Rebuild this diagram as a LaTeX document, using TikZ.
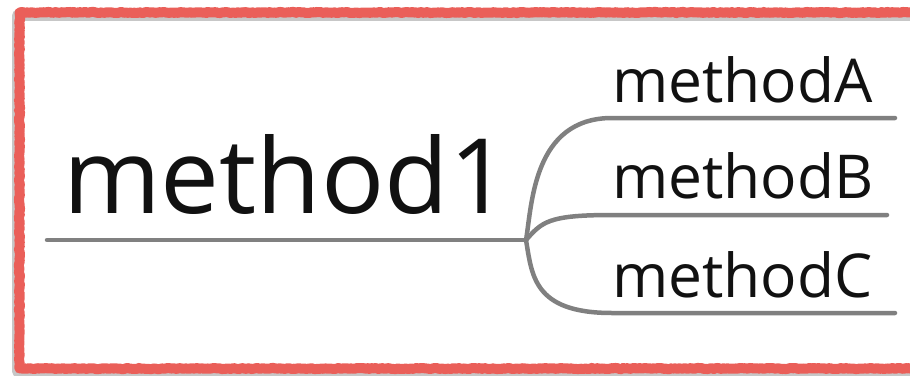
\documentclass[tikz,border=0pt]{standalone}
\usepackage{fontspec}
\setmainfont{Open Sans}
\usetikzlibrary{decorations.pathmorphing}
\definecolor{framered}{HTML}{EA5F59}
\definecolor{branchgray}{HTML}{808080}
\definecolor{inkblack}{HTML}{111111}
\begin{document}
\begin{tikzpicture}[x=1pt,y=-1pt,
  label/.style={anchor=base west,inner sep=0pt,text=inkblack},
  branch/.style={draw=branchgray,line width=4.5pt,line cap=round},
  chalk/.style={draw=framered,line width=10pt,line join=round,
    decorate,decoration={random steps,segment length=2pt,amplitude=0.6pt}}]
\useasboundingbox (0,0) rectangle (910,375);
% soft shadow behind the frame
\draw[black!22,line width=11pt,line join=round] (17,15.5) rectangle (940,371);
% hand-drawn frame
\draw[chalk] (19.5,12.5) rectangle (940,368.5);
% labels
\node[label,font=\fontsize{104}{104}\selectfont,xscale=1.01] (m1) at (63,213) {method1};
\node[label,font=\fontsize{60.5}{60.5}\selectfont] (mA) at (612,102) {methodA};
\node[label,font=\fontsize{60.5}{60.5}\selectfont] (mB) at (612,198) {methodB};
\node[label,font=\fontsize{60.5}{60.5}\selectfont] (mC) at (612,297) {methodC};
% underline end points
\coordinate (root) at (47,240);
\coordinate (jn) at (526,240);
\coordinate (endA) at (895,118);
\coordinate (endB) at (887,215);
\coordinate (endC) at (895,313);
% connectors
\draw[branch] (root) -- (jn);
\draw[branch] (jn) .. controls (532,205) and (533,118) .. (mA.west |- endA) -- (endA);
\draw[branch] (jn) .. controls (542,222) and (548,215) .. (mB.west |- endB) -- (endB);
\draw[branch] (jn) .. controls (532,275) and (533,313) .. (mC.west |- endC) -- (endC);
\end{tikzpicture}
\end{document}
